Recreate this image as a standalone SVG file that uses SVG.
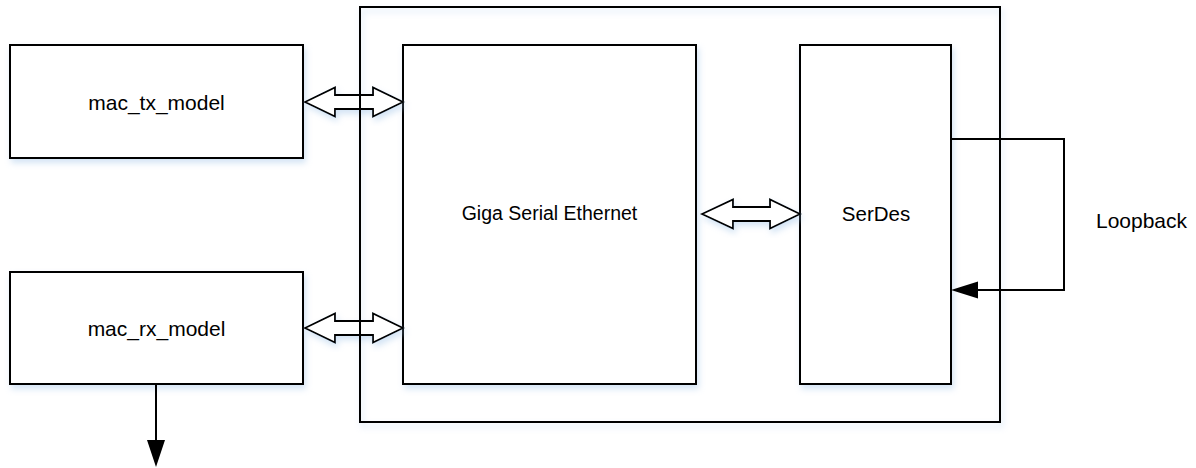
<svg xmlns="http://www.w3.org/2000/svg" width="1196" height="468" viewBox="0 0 1196 468">
<defs>
<style>
.box{fill:#fff;stroke:#000;stroke-width:2;filter:url(#sh)}
.frame{fill:none;stroke:#000;stroke-width:2}
.lbl{font-family:"Liberation Sans",Arial,sans-serif;fill:#000;text-anchor:middle}
.dbl{fill:#fff;stroke:#000;stroke-width:1.8;stroke-linejoin:miter;filter:url(#sh)}
.wire{fill:none;stroke:#000;stroke-width:2}
</style>
<filter id="sh" x="-10%" y="-10%" width="130%" height="140%">
<feDropShadow dx="2" dy="4" stdDeviation="3" flood-color="#9fc3e8" flood-opacity="0.45"/>
</filter>
</defs>
<g id="outer"><rect x="360" y="7" width="640" height="415" fill="none" stroke="#000" stroke-width="2" filter="url(#sh)"/></g>
<g id="mac_tx_model"><rect class="box" x="10" y="45" width="293" height="113"/><text class="lbl" x="156.5" y="110" style="font-size:21px">mac_tx_model</text></g>
<g id="mac_rx_model"><rect class="box" x="10" y="272" width="293" height="112"/><text class="lbl" x="156.5" y="336" style="font-size:21px">mac_rx_model</text></g>
<g id="giga"><rect class="box" x="403" y="45" width="293" height="339"/><text class="lbl" x="549.5" y="220" style="font-size:19.5px">Giga Serial Ethernet</text></g>
<g id="serdes"><rect class="box" x="800" y="45" width="151" height="339"/><text class="lbl" x="876" y="221" style="font-size:20.5px">SerDes</text></g>
<g id="connectors">
<polygon class="dbl" points="305,102 335,87.5 335,95 373,95 373,87.5 403,102 373,116.5 373,109 335,109 335,116.5"/>
<polygon class="dbl" points="305,328 335,313.5 335,321 373,321 373,313.5 403,328 373,342.5 373,335 335,335 335,342.5"/>
<polygon class="dbl" points="702,214 733,199.5 733,207 770,207 770,199.5 800,214 770,228.5 770,221 733,221 733,228.5"/>
<polyline class="wire" points="951,139 1064,139 1064,290 978,290"/>
<polygon points="951,290 978,281.5 978,298.5" fill="#000"/>
<line class="wire" x1="156" y1="384" x2="156" y2="441"/>
<polygon points="147,440 165,440 156,467" fill="#000"/>
</g>
<rect class="frame" x="360" y="7" width="640" height="415"/>
<text class="lbl" x="1141.5" y="228" style="font-size:21px">Loopback</text>
</svg>
